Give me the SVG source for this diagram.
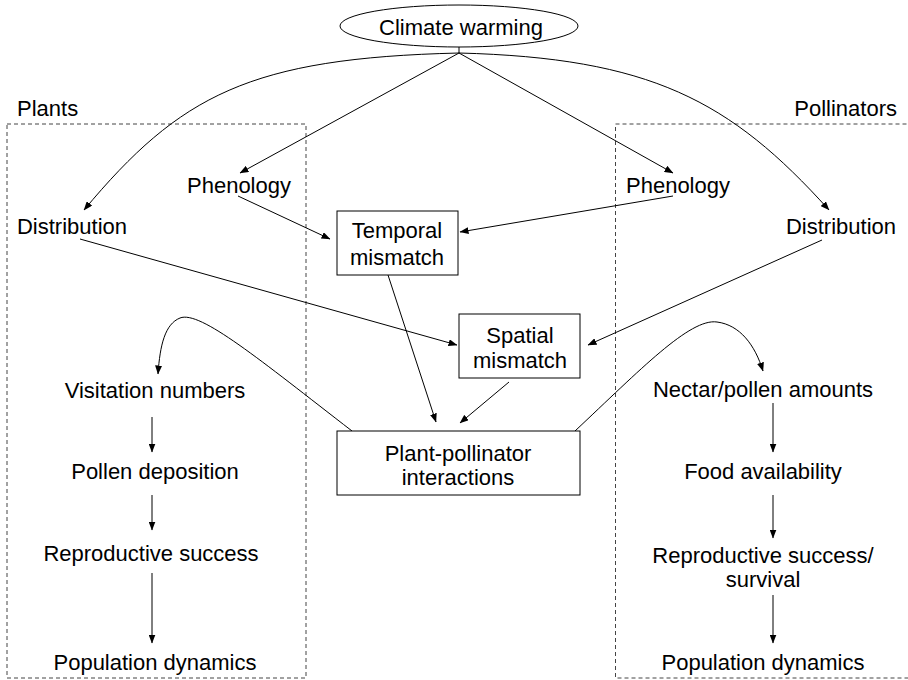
<svg xmlns="http://www.w3.org/2000/svg" width="908" height="680" viewBox="0 0 908 680">
<style>
text{font-family:"Liberation Sans",Arial,sans-serif;font-size:22px;fill:#000;text-anchor:middle}
.c{fill:none;stroke:#000;stroke-width:1}
.a{marker-end:url(#ah)}
.box{fill:#fff;stroke:#000;stroke-width:1}
.grp{fill:none;stroke:#444;stroke-width:1;stroke-dasharray:4 3}
</style>
<defs>
<marker id="ah" markerWidth="9" markerHeight="7" refX="8.5" refY="3.5" orient="auto" markerUnits="userSpaceOnUse">
<path d="M0,0 L9,3.5 L0,7 z" fill="#000"/>
</marker>
</defs>
<rect width="908" height="680" fill="#fff"/>
<g id="groups">
<rect class="grp" x="7" y="124" width="299" height="554"/>
<rect class="grp" x="615.500" y="124" width="300" height="554"/>
<text x="17" y="116" style="text-anchor:start">Plants</text>
<text x="897" y="116" style="text-anchor:end">Pollinators</text>
</g>
<g id="connectors">
<path class="c" d="M459,47 L459,53"/>
<path class="c a" d="M459,53 C250,58 180,95 84,210"/>
<path class="c a" d="M459,53 C650,58 730,100 829,210"/>
<path class="c a" d="M459,53 L240,173"/>
<path class="c a" d="M459,53 L673,173"/>
<path class="c a" d="M238,196 L330,239"/>
<path class="c a" d="M673,196 L460,232"/>
<path class="c a" d="M80,239 L457,345"/>
<path class="c a" d="M822,240 L588,345"/>
<path class="c a" d="M388,275 L436,422"/>
<path class="c a" d="M509,382 L460,423"/>
<path class="c a" d="M352,431 C260,360 200,310 180,318 C165,324 160,345 158,374"/>
<path class="c a" d="M575,431 C640,370 690,318 717,322 C740,325 755,345 763,371"/>
<path class="c a" d="M152,417 L152,452"/>
<path class="c a" d="M152,495 L152,530"/>
<path class="c a" d="M152,573 L152,643"/>
<path class="c a" d="M773,403 L773,452"/>
<path class="c a" d="M773,495 L773,538"/>
<path class="c a" d="M773,595 L773,643"/>
</g>
<g id="climate">
<ellipse class="box" cx="459" cy="26" rx="119" ry="21"/>
<text x="461" y="35">Climate warming</text>
</g>
<g id="phenology-plants"><text x="239" y="193">Phenology</text></g>
<g id="phenology-pollinators"><text x="678" y="193">Phenology</text></g>
<g id="distribution-plants"><text x="72" y="234">Distribution</text></g>
<g id="distribution-pollinators"><text x="841" y="234">Distribution</text></g>
<g id="temporal">
<rect class="box" x="337" y="211" width="121" height="64"/>
<text x="397" y="238">Temporal</text>
<text x="397" y="265">mismatch</text>
</g>
<g id="spatial">
<rect class="box" x="459" y="314" width="121" height="64"/>
<text x="520" y="343">Spatial</text>
<text x="520" y="368">mismatch</text>
</g>
<g id="interactions">
<rect class="box" x="337" y="431" width="243" height="64"/>
<text x="458" y="461">Plant-pollinator</text>
<text x="458" y="485">interactions</text>
</g>
<g id="visitation"><text x="155" y="398">Visitation numbers</text></g>
<g id="pollen-deposition"><text x="155" y="479">Pollen deposition</text></g>
<g id="repro-plants"><text x="151" y="561">Reproductive success</text></g>
<g id="popdyn-plants"><text x="155" y="670">Population dynamics</text></g>
<g id="nectar"><text x="763" y="397">Nectar/pollen amounts</text></g>
<g id="food"><text x="763" y="479">Food availability</text></g>
<g id="repro-pollinators">
<text x="763" y="563">Reproductive success/</text>
<text x="763" y="587">survival</text>
</g>
<g id="popdyn-pollinators"><text x="763" y="670">Population dynamics</text></g>
</svg>
